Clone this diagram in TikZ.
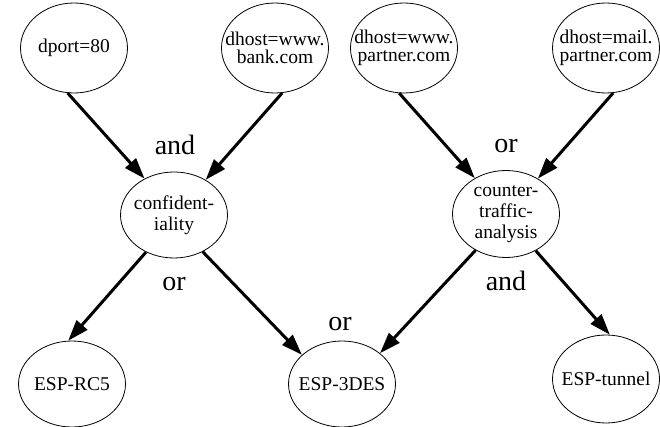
\documentclass[tikz,border=0pt]{standalone}
\usepackage{fontspec}
\setmainfont{Liberation Serif}
\usetikzlibrary{arrows.meta,shapes.geometric}
\tikzset{
  ell/.style={draw, ellipse, line width=0.8pt, inner sep=-40pt, align=center,
    minimum width=107pt, minimum height=88pt,
    font=\fontsize{19.5}{21}\selectfont},
  tight/.style={font=\fontsize{19.5}{18}\selectfont},
  arr/.style={line width=3pt, -{Triangle[length=21pt,width=14pt]}},
  lbl/.style={anchor=base, inner sep=0pt, font=\fontsize{28}{30}\selectfont}
}
\begin{document}
\begin{tikzpicture}[x=1pt,y=-1pt]
\useasboundingbox (0,0) rectangle (660,427);
\node[ell, minimum height=90pt] (dport) at (74,48) {dport=80};
\node[ell, tight, minimum height=90pt] (bank) at (275,48) {dhost=www.\\bank.com};
\node[ell, tight, minimum height=90pt] (wwwp) at (404,48) {dhost=www.\\partner.com};
\node[ell, tight, minimum height=90pt] (mailp) at (606,48) {dhost=mail.\\partner.com};
\node[ell, minimum height=86pt] (conf) at (174,215) {confident-\\iality};
\node[ell, minimum height=87pt] (ctr) at (506,214) {counter-\\traffic-\\analysis};
\node[ell, minimum height=86pt] (rc5) at (72,384) {ESP-RC5};
\node[ell, minimum height=86pt] (des) at (342,384) {ESP-3DES};
\node[ell, minimum height=88pt] (tun) at (606,379) {ESP-tunnel};

\draw[arr] (dport.262) -- (conf.129);
\draw[arr] (bank.279) -- (conf.48);
\draw[arr] (wwwp.264) -- (ctr.131);
\draw[arr] (mailp.279) -- (ctr.48);
\draw[arr] (conf.233) -- (rc5.95);
\draw[arr] (conf.308) -- (des.144);
\draw[arr] (ctr.230) -- (des.39);
\draw[arr] (ctr.309) -- (tun.85);

\node[lbl] (l1) at (175,155) {and};
\node[lbl] (l2) at (506,153) {or};
\node[lbl] (l3) at (174,290) {or};
\node[lbl] (l4) at (340,330) {or};
\node[lbl] (l5) at (506,290) {and};
\end{tikzpicture}
\end{document}
